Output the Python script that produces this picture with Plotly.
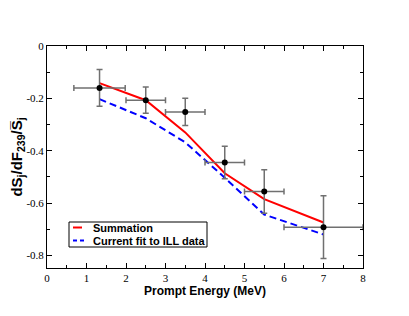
import plotly.graph_objects as go

# Data points (ILL-derived)
data_x = [1.33, 2.5, 3.5, 4.5, 5.5, 7.0]
data_y = [-0.160, -0.207, -0.252, -0.445, -0.556, -0.692]
data_xerr = [0.65, 0.5, 0.5, 0.5, 0.5, 1.0]
data_yerr = [0.07, 0.05, 0.052, 0.062, 0.083, 0.12]

# Summation curve
sum_x = [1.33, 2.5, 3.5, 4.5, 5.5, 7.0]
sum_y = [-0.142, -0.207, -0.330, -0.486, -0.585, -0.674]

# Current fit to ILL data
fit_x = [1.33, 2.5, 3.5, 4.5, 5.5, 7.0]
fit_y = [-0.203, -0.276, -0.368, -0.503, -0.644, -0.720]

x_ticks = [0, 1, 2, 3, 4, 5, 6, 7, 8]
y_ticks = [0, -0.2, -0.4, -0.6, -0.8]
y_tick_labels = ["0", "-0.2", "-0.4", "-0.6", "-0.8"]

legend_labels = ["Summation", "Current fit to ILL data"]

fig = go.Figure()

fig.add_trace(go.Scatter(
    x=sum_x, y=sum_y, mode="lines",
    line=dict(color="#ff0000", width=2),
    name=legend_labels[0], showlegend=False))

fig.add_trace(go.Scatter(
    x=fit_x, y=fit_y, mode="lines",
    line=dict(color="#0000ff", width=2, dash="7px,4px"),
    name=legend_labels[1], showlegend=False))

fig.add_trace(go.Scatter(
    x=data_x, y=data_y, mode="markers",
    marker=dict(color="black", size=6),
    error_x=dict(type="data", array=data_xerr, color="#707070", thickness=1.5, width=3),
    error_y=dict(type="data", array=data_yerr, color="#707070", thickness=1.5, width=3),
    showlegend=False))

# Manual legend (box, line samples, labels)
fig.add_shape(type="rect", xref="paper", yref="paper",
              x0=(69 - 47) / 316, x1=(207 - 47) / 316,
              y0=(268 - 247) / 222, y1=(268 - 222) / 222,
              line=dict(color="black", width=1), fillcolor="white")
fig.add_shape(type="line", xref="paper", yref="paper",
              x0=(73 - 47) / 316, x1=(82 - 47) / 316,
              y0=(268 - 227.5) / 222, y1=(268 - 227.5) / 222,
              line=dict(color="#ff0000", width=2))
fig.add_shape(type="line", xref="paper", yref="paper",
              x0=(73 - 47) / 316, x1=(86 - 47) / 316,
              y0=(268 - 240.5) / 222, y1=(268 - 240.5) / 222,
              line=dict(color="#0000ff", width=2, dash="4px,3px"))
for i, lab in enumerate(legend_labels):
    fig.add_annotation(
        xref="paper", yref="paper",
        x=(91 - 47) / 316, y=(268 - (227.5 + 13 * i)) / 222,
        text=lab, showarrow=False, xanchor="left", yanchor="middle",
        font=dict(family="Liberation Sans, Arial", size=11, color="black", weight="bold"))

tick_font = dict(family="Liberation Serif, Times New Roman", size=11, color="black")

fig.update_xaxes(
    range=[0, 8], tickvals=x_ticks, ticks="inside", ticklen=5, tickcolor="black",
    showline=True, linecolor="black", linewidth=1, mirror="ticks",
    showgrid=False, zeroline=False, tickfont=tick_font, automargin=False,
    minor=dict(ticks="inside", ticklen=3, dtick=0.5, tickcolor="black", showgrid=False),
    title=dict(text="<b>Prompt Energy (MeV)</b>", font=dict(family="Liberation Sans, Arial", size=12, color="black"), standoff=2))

fig.update_yaxes(
    range=[-0.848, 0], tickvals=y_ticks, ticktext=y_tick_labels, ticks="inside", ticklen=5,
    tickcolor="black", showline=True, linecolor="black", linewidth=1, mirror="ticks",
    showgrid=False, zeroline=False, tickfont=tick_font, automargin=False,
    minor=dict(ticks="inside", ticklen=3, dtick=0.1, tickcolor="black", showgrid=False),
    title=dict(text="<b>dS<sub>j</sub>/dF<sub>239</sub>/S\u0305<sub>j</sub></b>",
               font=dict(family="Liberation Sans, Arial", size=15, color="black"), standoff=4))

# The page body has an 8px default margin, so the figure is sized/offset to compensate
fig.update_layout(
    width=401, height=308,
    margin=dict(l=39, r=46, t=38, b=48),
    plot_bgcolor="white", paper_bgcolor="white",
    showlegend=False)

fig.write_html("out.html")
